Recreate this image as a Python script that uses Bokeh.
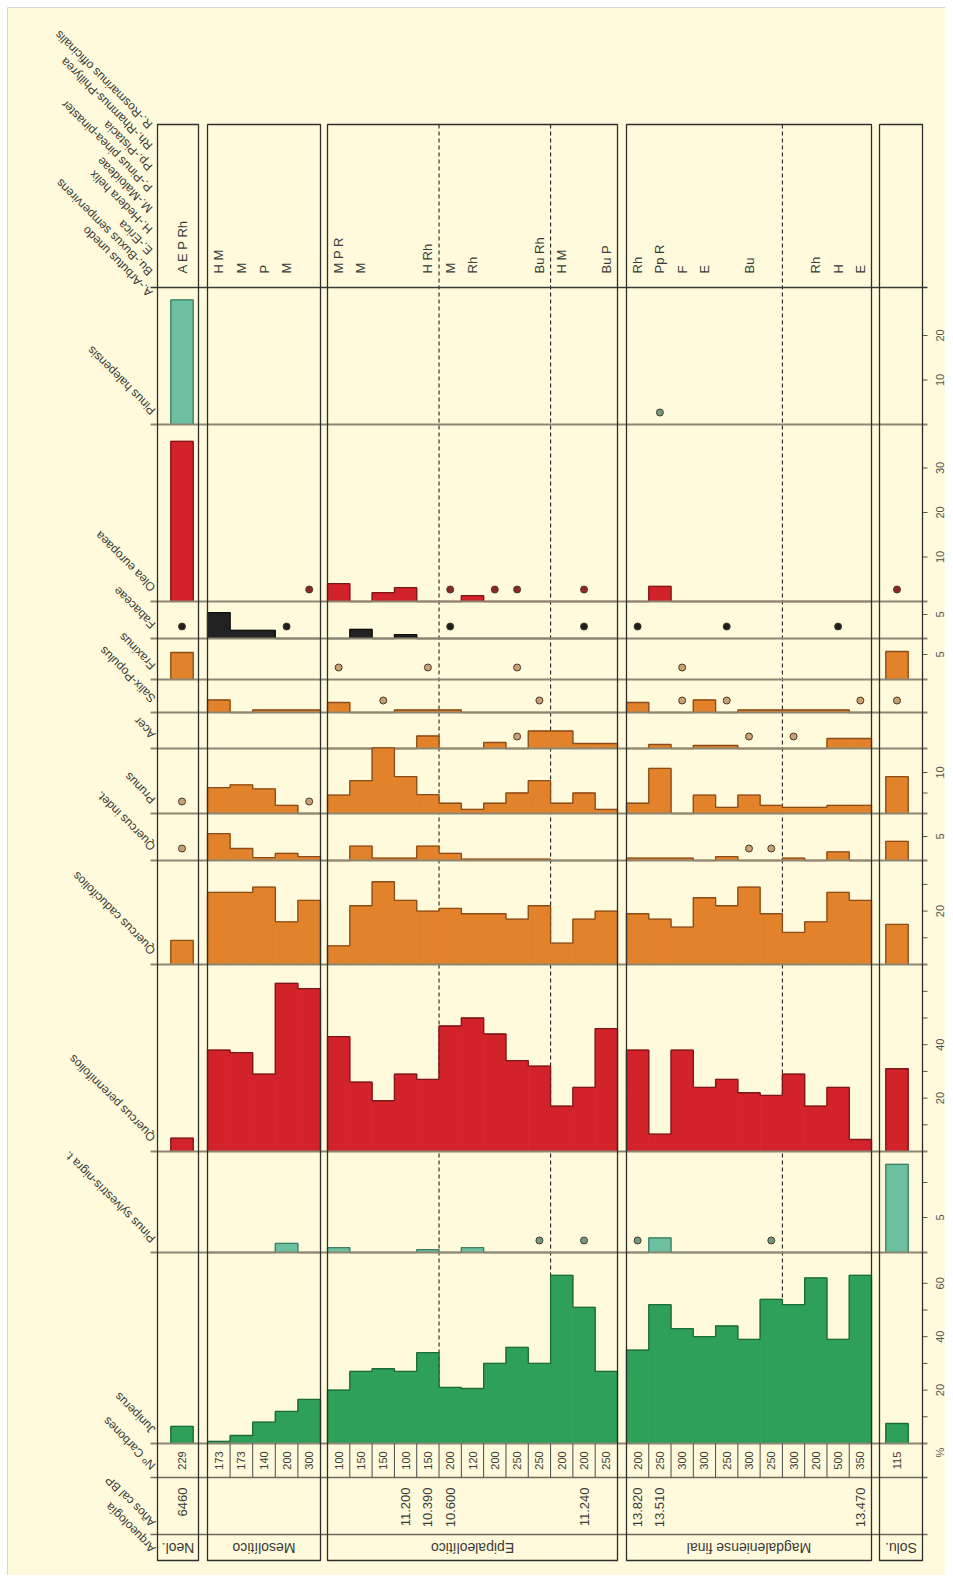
import math
from bokeh.plotting import figure
from bokeh.models import Range1d
from bokeh.core.properties import value
from bokeh.embed import file_html
from bokeh.resources import INLINE

# ---------------- data ----------------
periods = ["Neol.", "Mesolítico", "Epipaleolítico", "Magdaleniense final", "Solu."]
period_sizes = [1, 5, 13, 11, 1]

n_carbones = [229,
              173, 173, 140, 200, 300,
              100, 150, 150, 100, 150, 200, 120, 200, 250, 250, 200, 200, 250,
              200, 250, 300, 300, 250, 300, 250, 300, 200, 500, 350,
              115]

date_samples = [0, 9, 10, 11, 17, 19, 20, 29]
date_labels = ["6460", "11.200", "10.390", "10.600", "11.240", "13.820", "13.510", "13.470"]

accessory = ["A E P Rh",
             "H M", "M", "P", "M", "",
             "M P R", "M", "", "", "H Rh", "M", "Rh", "", "", "Bu Rh", "H M", "", "Bu P",
             "Rh", "Pp R", "F", "E", "", "Bu", "", "", "Rh", "H", "E",
             ""]

abbrev_legend = ["A.-Arbutus unedo", "Bu.-Buxus sempervirens", "E.-Erica", "H.-Hedera helix",
                 "M.-Maloideae", "P.-Pinus pinea-pinaster", "Pp.-Pistacia",
                 "Rh.-Rhamnus-Phillyrea", "R.-Rosmarinus officinalis"]

juniperus = [6.4,
             0.8, 3, 8, 12, 16.5,
             20, 27, 28, 27, 34, 21, 20.6, 30, 36, 30, 63, 51, 27,
             35, 52, 43, 40, 44, 39, 54, 52, 62, 39, 63,
             7.5]
pinus_sylv = [0,
              0, 0, 0, 1.3, 0,
              0.7, 0, 0, 0, 0.4, 0, 0.7, 0, 0, 0, 0, 0, 0,
              0, 2.1, 0, 0, 0, 0, 0, 0, 0, 0, 0,
              12.6]
pinus_sylv_pres = [15, 17, 19, 25]
q_peren = [5,
           38, 37, 29, 63, 61,
           43, 26, 19, 29, 27, 47, 50, 44, 34, 32, 17, 24, 46,
           38, 6.5, 38, 24, 27, 22, 21, 29, 17, 24, 4.5,
           31]
q_cad = [9,
         27, 27, 29, 16, 24,
         7, 22, 31, 24, 20, 21, 19, 19, 17, 22, 8, 17, 20,
         19, 17, 14, 25, 22, 29, 19, 12, 16, 27, 24,
         15]
q_indet = [0,
           5.6, 2.5, 0.6, 1.5, 0.8,
           0, 3, 0.5, 0.5, 3, 1.5, 0.3, 0.3, 0.3, 0.3, 0, 0, 0,
           0.5, 0.5, 0.5, 0, 0.8, 0, 0, 0.5, 0, 1.8, 0,
           4]
q_indet_pres = [0, 24, 25]
prunus = [0,
          6.3, 7, 6, 2, 0,
          4.5, 8, 16, 9, 4.6, 2.5, 1, 2.5, 5, 8, 2.5, 5, 1,
          2.5, 11, 0, 4.5, 1.5, 4.5, 2, 1.5, 1.5, 2, 2,
          9]
prunus_pres = [0, 5]
acer = [0,
        0, 0, 0, 0, 0,
        0, 0, 0, 0, 2.5, 0, 0, 1.2, 0, 3.5, 3.5, 1, 1,
        0, 0.8, 0, 0.6, 0.6, 0, 0, 0, 0, 2, 2,
        0]
acer_pres = [14, 24, 26]
salix = [0,
         2.5, 0, 0.5, 0.5, 0.5,
         2, 0, 0, 0.5, 0.5, 0.5, 0, 0, 0, 0, 0, 0, 0,
         2, 0, 0, 2.5, 0, 0.5, 0.5, 0.5, 0.5, 0.5, 0,
         0]
salix_pres = [8, 15, 21, 23, 29, 30]
fraxinus = [5.4,
            0, 0, 0, 0, 0,
            0, 0, 0, 0, 0, 0, 0, 0, 0, 0, 0, 0, 0,
            0, 0, 0, 0, 0, 0, 0, 0, 0, 0, 0,
            5.6]
fraxinus_pres = [6, 10, 14, 21]
fabaceae = [0,
            5.4, 1.7, 1.7, 0, 0,
            0, 1.9, 0, 0.8, 0, 0, 0, 0, 0, 0, 0, 0, 0,
            0, 0, 0, 0, 0, 0, 0, 0, 0, 0, 0,
            0]
fabaceae_pres = [0, 4, 11, 17, 19, 23, 28]
olea = [36,
        0, 0, 0, 0, 0,
        4, 0, 2, 3.1, 0, 0, 1.3, 0, 0, 0, 0, 0, 0,
        0, 3.4, 0, 0, 0, 0, 0, 0, 0, 0, 0,
        0]
olea_pres = [5, 11, 13, 14, 17, 30]
pinus_halep = [28,
               0, 0, 0, 0, 0,
               0, 0, 0, 0, 0, 0, 0, 0, 0, 0, 0, 0, 0,
               0, 0, 0, 0, 0, 0, 0, 0, 0, 0, 0,
               0]
pinus_halep_pres = [20]

zone_breaks = [10, 15, 25]   # dashed zone limits after these samples

# ---------------- layout / style ----------------
BG = "#FFFADB"
TXT = "#3a3a3a"
FONT = value("Liberation Sans")
GREEN, GREEN_D = "#2FA058", "#1c6b39"
TEAL, TEAL_D = "#6CBFA0", "#3e7e66"
RED, RED_D = "#D2232A", "#7e1717"
ORANGE, ORANGE_D = "#E2832B", "#8a4c18"
BLACK, BLACK_D = "#222222", "#111111"

W, H = 945, 1575
BLOCKS = [(157, 198), (207, 320), (327, 617), (626, 871), (879, 922)]
SINGLE_CENTER = {0: 181.5, 4: 896.5}
CELL = 22.4
TOP, ACC_BOTTOM, NUM_TOP, NUM_BOTTOM, DATE_BOTTOM, BOTTOM = 124, 287, 1443, 1477, 1534, 1560
AXIS_X = 922
DOT_PX = 12

# taxon: values, presence, base(px), scale(px per %), ticks, labelled ticks, colours
taxa = [
    ("Pinus halepensis", pinus_halep, pinus_halep_pres, 424, 4.45, [10, 20], [10, 20], TEAL, TEAL_D),
    ("Olea europaea", olea, olea_pres, 601, 4.45, [10, 20, 30], [10, 20, 30], RED, RED_D),
    ("Fabaceae", fabaceae, fabaceae_pres, 638, 4.8, [5], [5], BLACK, BLACK_D),
    ("Fraxinus", fraxinus, fraxinus_pres, 679, 5.0, [5], [5], ORANGE, ORANGE_D),
    ("Salix-Populus", salix, salix_pres, 712, 5.0, [], [], ORANGE, ORANGE_D),
    ("Acer", acer, acer_pres, 748, 5.0, [], [], ORANGE, ORANGE_D),
    ("Prunus", prunus, prunus_pres, 813, 4.1, [5, 10], [10], ORANGE, ORANGE_D),
    ("Quercus indet.", q_indet, q_indet_pres, 860, 4.8, [5], [5], ORANGE, ORANGE_D),
    ("Quercus caducifolios", q_cad, [], 964, 2.67, [10, 20, 30], [20], ORANGE, ORANGE_D),
    ("Quercus perennifolios", q_peren, [], 1151, 2.67, [10, 20, 30, 40, 50, 60], [20, 40], RED, RED_D),
    ("Pinus sylvestris-nigra t.", pinus_sylv, pinus_sylv_pres, 1252, 7.0, [5, 10], [5], TEAL, TEAL_D),
    ("Juniperus", juniperus, [], NUM_TOP, 2.67, [10, 20, 30, 40, 50, 60], [20, 40, 60], GREEN, GREEN_D),
]

# sample cell geometry (layout derived from block sizes)
cells = []   # (left, right, block)
for b, n in enumerate(period_sizes):
    a, e = BLOCKS[b]
    if n == 1:
        c = SINGLE_CENTER[b]
        cells.append((c - CELL / 2, c + CELL / 2, b))
    else:
        w = (e - a) / n
        for i in range(n):
            cells.append((a + i * w, a + (i + 1) * w, b))
centers = [(l + r) / 2 for l, r, _ in cells]

p = figure(width=W, height=H, x_range=Range1d(0, W), y_range=Range1d(H, 0),
           output_backend="svg", toolbar_location=None, min_border=0,
           x_axis_type=None, y_axis_type=None,
           background_fill_color="white", border_fill_color="white", outline_line_color=None)
p.grid.visible = False

# cream sheet with a faint edge
p.quad(left=[7], right=[947], top=[7], bottom=[1577], fill_color=BG, line_color="#d9d8cf", line_width=1)

for name, vals, pres, base, scale, ticks, lab, col, dcol in taxa:
    p.extra_y_ranges[name] = Range1d(start=(base - H) / scale, end=base / scale)

# dashed zone lines (behind bars)
for k in zone_breaks:
    xz = cells[k][1]
    p.segment(x0=xz, x1=xz, y0=TOP, y1=NUM_TOP, line_color="#222222", line_width=1.1, line_dash="4 3")

# bars, outlines, baselines, dots, ticks
for name, vals, pres, base, scale, ticks, lab, col, dcol in taxa:
    idx = [i for i, v in enumerate(vals) if v > 0]
    if idx:
        p.quad(left=[cells[i][0] for i in idx], right=[cells[i][1] for i in idx],
               bottom=0, top=[vals[i] for i in idx], fill_color=col, line_color=col,
               line_width=0.8, y_range_name=name)
    # step outline per block
    xs, ys = [], []
    for b in range(len(BLOCKS)):
        ids = [i for i in range(len(vals)) if cells[i][2] == b]
        if not any(vals[i] > 0 for i in ids):
            continue
        px, py = [cells[ids[0]][0]], [0]
        for i in ids:
            px += [cells[i][0], cells[i][1]]
            py += [vals[i], vals[i]]
        px.append(cells[ids[-1]][1]); py.append(0)
        xs.append(px); ys.append(py)
    if xs:
        p.multi_line(xs=xs, ys=ys, line_color=dcol, line_width=1.3, y_range_name=name)
    p.segment(x0=150, x1=927, y0=0, y1=0, line_color="#8c8672", line_width=2.2, y_range_name=name)
    if pres:
        dot_fill = {"Olea europaea": "#8b2a22", "Fabaceae": "#1e1e1e"}.get(name, None)
        if dot_fill is None:
            dot_fill = "#6f9a7f" if col == TEAL else "#c9a070"
        p.scatter(x=[centers[i] for i in pres], y=[DOT_PX / scale] * len(pres), size=7,
                  marker="circle", fill_color=dot_fill, line_color="#4a3a2a", line_width=1,
                  y_range_name=name)
    if ticks:
        p.segment(x0=[AXIS_X] * len(ticks), x1=[AXIS_X + 5] * len(ticks), y0=ticks, y1=ticks,
                  line_color="#555555", line_width=1, y_range_name=name)
    if lab:
        p.text(x=[AXIS_X + 17] * len(lab), y=lab, text=[str(t) for t in lab], angle=math.pi / 2,
               text_align="center", text_baseline="middle", text_font=FONT,
               text_font_size="11px", text_color="#555555", y_range_name=name)
    # taxon name, diagonal
    p.text(x=[153], y=[base - 12], text=[name], angle=3 * math.pi / 4, text_align="left",
           text_baseline="middle", text_font=FONT, text_font_size="12px", text_color=TXT)

# % label at the Juniperus origin
p.text(x=[AXIS_X + 17], y=[NUM_TOP + 9], text=["%"], angle=math.pi / 2, text_align="center",
       text_baseline="middle", text_font=FONT, text_font_size="11px", text_color="#555555")

# structural horizontal lines
for yy, c, w in [(ACC_BOTTOM, "#3a3a3a", 1.3), (NUM_BOTTOM, "#6d6a5c", 1.6), (DATE_BOTTOM, "#6d6a5c", 1.6)]:
    p.segment(x0=150, x1=927, y0=yy, y1=yy, line_color=c, line_width=w)

# Nº carbones cell dividers
div_x = [cells[i][1] for i in range(len(cells) - 1) if cells[i][2] == cells[i + 1][2]]
p.segment(x0=div_x, x1=div_x, y0=[NUM_TOP] * len(div_x), y1=[NUM_BOTTOM] * len(div_x),
          line_color="#4a4a4a", line_width=1)

# block frames
p.quad(left=[a for a, e in BLOCKS], right=[e for a, e in BLOCKS], top=[TOP] * 5, bottom=[BOTTOM] * 5,
       fill_color=None, line_color="#2e2e2e", line_width=1.3)

# texts: numbers of charcoals
p.text(x=centers, y=[(NUM_TOP + NUM_BOTTOM) / 2] * len(centers), text=[str(v) for v in n_carbones],
       angle=math.pi / 2, text_align="center", text_baseline="middle", text_font=FONT,
       text_font_size="11px", text_color=TXT)
# dates
p.text(x=[centers[i] for i in date_samples], y=[NUM_BOTTOM + 10] * len(date_samples), text=date_labels,
       angle=math.pi / 2, text_align="right", text_baseline="middle", text_font=FONT,
       text_font_size="13px", text_color=TXT)
# periods (upside down)
p.text(x=[(a + e) / 2 for a, e in BLOCKS], y=[(DATE_BOTTOM + BOTTOM) / 2] * 5, text=periods,
       angle=math.pi, text_align="center", text_baseline="middle", text_font=FONT,
       text_font_size="14px", text_color=TXT)
# accessory taxa
acc_idx = [i for i, s in enumerate(accessory) if s]
p.text(x=[centers[i] for i in acc_idx], y=[ACC_BOTTOM - 14] * len(acc_idx),
       text=[accessory[i] for i in acc_idx], angle=math.pi / 2, text_align="left",
       text_baseline="middle", text_font=FONT, text_font_size="13px", text_color=TXT)
# header labels of left columns
for lbl, yb in [("Nº Carbones", NUM_BOTTOM), ("Años cal BP", DATE_BOTTOM), ("Arqueología", BOTTOM)]:
    p.text(x=[153], y=[yb - 10], text=[lbl], angle=3 * math.pi / 4, text_align="left",
           text_baseline="middle", text_font=FONT, text_font_size="12px", text_color=TXT)
# legend of accessory abbreviations
for k, lbl in enumerate(abbrev_legend):
    p.text(x=[150], y=[294 - 21 * k], text=[lbl], angle=3 * math.pi / 4, text_align="left",
           text_baseline="middle", text_font=FONT, text_font_size="12px", text_color=TXT)

open("out.html", "w").write(file_html(p, INLINE))
